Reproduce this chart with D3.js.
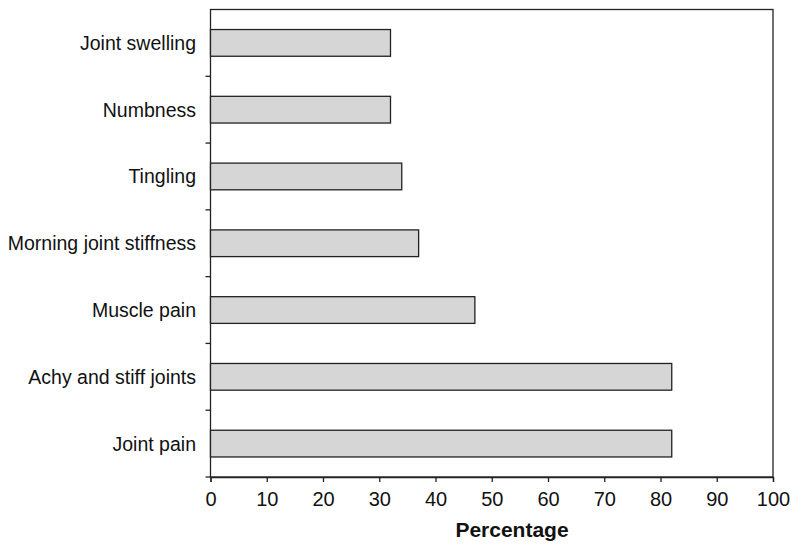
<!DOCTYPE html>
<html><head><meta charset="utf-8">
<script src="https://cdn.jsdelivr.net/npm/d3@7/dist/d3.min.js"></script>
<style>body{margin:0;background:#fff}svg{display:block}</style>
</head><body>
<script>
const categories = ["Joint swelling","Numbness","Tingling","Morning joint stiffness","Muscle pain","Achy and stiff joints","Joint pain"];
const values = [32,32,34,37,47,82,82];
const xTicks = [0,10,20,30,40,50,60,70,80,90,100];
const xTitle = "Percentage";

const W=800,H=553;
const m={left:210.5,right:27,top:9.5,bottom:76};
const svg=d3.select("body").append("svg").attr("width",W).attr("height",H);
const font="Liberation Sans, Arial, Helvetica, sans-serif";
const x=d3.scaleLinear().domain([0,100]).range([m.left,W-m.right]);
const y=d3.scaleBand().domain(categories).range([m.top,H-m.bottom]).paddingInner(0.6).paddingOuter(0.3);

// frame
svg.append("rect").attr("x",m.left).attr("y",m.top).attr("width",x(100)-m.left).attr("height",H-m.bottom-m.top)
  .attr("fill","none").attr("stroke","#222").attr("stroke-width",1.3);

// bars
svg.selectAll("rect.bar").data(categories).join("rect").attr("class","bar")
  .attr("x",x(0)).attr("y",d=>y(d)).attr("width",(d,i)=>x(values[i])-x(0)).attr("height",y.bandwidth())
  .attr("fill","#d6d6d6").attr("stroke","#222").attr("stroke-width",1.3);

// x axis
const xa=svg.append("g").attr("transform",`translate(0,${H-m.bottom})`)
  .call(d3.axisBottom(x).tickValues(xTicks).tickSize(5).tickPadding(10));
xa.select(".domain").attr("stroke","#222").attr("stroke-width",1.3);
xa.selectAll(".tick line").attr("stroke","#222").attr("stroke-width",1.3);
xa.selectAll("text").attr("font-family",font).attr("font-size",20).attr("fill","#111");

// y ticks at band boundaries
const step=y.step();
const bounds=d3.range(categories.length).map(i=>m.top+i*step);
bounds.push(H-m.bottom);
svg.append("g").selectAll("line").data(bounds.slice(1)).join("line")
  .attr("x1",m.left-5).attr("x2",m.left).attr("y1",d=>d).attr("y2",d=>d)
  .attr("stroke","#222").attr("stroke-width",1.3);

// category labels
svg.append("g").selectAll("text").data(categories).join("text")
  .attr("x",196).attr("y",d=>y(d)+y.bandwidth()/2).attr("dy","0.36em")
  .attr("text-anchor","end").attr("font-family",font).attr("font-size",19.5).attr("fill","#111").text(d=>d);

// x title
svg.append("text").attr("x",512).attr("y",537).attr("text-anchor","middle")
  .attr("font-family",font).attr("font-size",21).attr("font-weight","bold").attr("fill","#111").text(xTitle);
</script>
</body></html>
